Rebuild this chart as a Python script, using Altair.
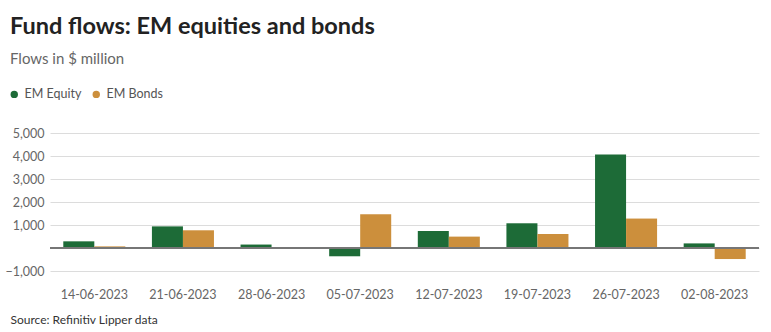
import altair as alt
import pandas as pd

dates = ["14-06-2023", "21-06-2023", "28-06-2023", "05-07-2023",
         "12-07-2023", "19-07-2023", "26-07-2023", "02-08-2023"]
equity = [290, 940, 150, -360, 740, 1075, 4070, 200]
bonds = [70, 770, 10, 1465, 495, 610, 1280, -480]
series = ["EM Equity", "EM Bonds"]
colors = ["#1d6b37", "#cc8f3c"]
y_ticks = [-1000, 0, 1000, 2000, 3000, 4000, 5000]

rows = []
for d, e, b in zip(dates, equity, bonds):
    rows.append({"date": d, "series": series[0], "value": e})
    rows.append({"date": d, "series": series[1], "value": b})
df = pd.DataFrame(rows)

FONT = "Lato"

y_axis = alt.Axis(title=None, values=y_ticks, grid=True,
                  gridColor="#dcdcdc", ticks=False, domain=False,
                  labelPadding=6, labelOverlap=False,
                  labelFontSize=12.5, labelColor="#666", labelFont=FONT,
                  labelExpr="datum.value == 0 ? '' : format(datum.value, ',')")
y_scale = alt.Scale(domain=[-1000, 5000], nice=False)

bars = alt.Chart(df).mark_bar().encode(
    x=alt.X("date:N", sort=dates,
            scale=alt.Scale(paddingInner=0.3, paddingOuter=0.15),
            axis=alt.Axis(title="Source: Refinitiv Lipper data", labelAngle=0,
                          labelFontSize=12.5, labelColor="#666", labelFont=FONT,
                          labelPadding=17, ticks=False, domain=False,
                          titleX=-40, titleY=48, titleAlign="left",
                          titleBaseline="middle", titleFontWeight="normal",
                          titleFontSize=12, titleColor="#333", titleFont=FONT)),
    xOffset=alt.XOffset("series:N", sort=series),
    y=alt.Y("value:Q", scale=y_scale, axis=y_axis),
    color=alt.Color("series:N", sort=series,
                    scale=alt.Scale(domain=series, range=colors),
                    legend=alt.Legend(title=None, orient="none", legendX=-42, legendY=-45,
                                      direction="horizontal", symbolType="circle",
                                      symbolSize=55, labelFontSize=12.5, labelColor="#555",
                                      labelFont=FONT, columnPadding=8, labelOffset=4,
                                      symbolStrokeWidth=0)),
)

zero = alt.Chart(df).mark_rule(color="#777", strokeWidth=1).encode(
    y=alt.Y(datum=0, scale=y_scale, axis=y_axis)
)

chart = alt.layer(bars, zero).properties(
    width=709, height=138,
    autosize=alt.AutoSizeParams(type="none"),
    padding={"left": 50, "top": 133, "right": 12, "bottom": 61},
    title=alt.TitleParams(
        text="Fund flows: EM equities and bonds",
        subtitle="Flows in $ million",
        anchor="start", frame="group", dx=-40, offset=21,
        font=FONT, fontSize=23.5, fontWeight="bold", color="#222",
        subtitleFont=FONT, subtitleFontSize=15, subtitleColor="#666",
        subtitlePadding=14,
    ),
).configure_view(stroke=None)

chart.save("out.html", embed_options={"renderer": "svg", "actions": False})
